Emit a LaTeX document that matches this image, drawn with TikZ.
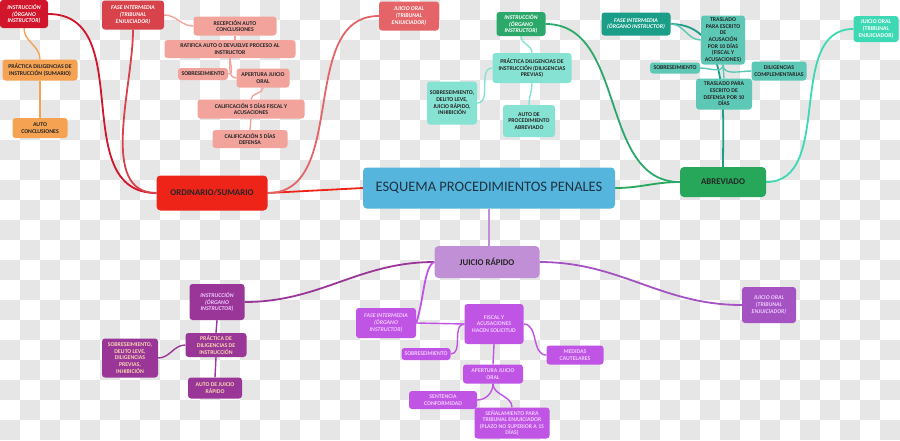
\documentclass[tikz,border=0pt]{standalone}
\usepackage{fontspec}
\setmainfont{Carlito}
\usetikzlibrary{positioning}
\pgfdeclarelayer{board}
\pgfdeclarelayer{links}
\pgfsetlayers{board,links,main}

\definecolor{chk}{HTML}{E6E6E6}
\definecolor{hubblue}{HTML}{56B5DC}
\definecolor{hubtxt}{HTML}{1F3342}
% red branch
\definecolor{ordred}{HTML}{EE2419}
\definecolor{redI}{HTML}{D1152A}
\definecolor{redF}{HTML}{D8424A}
\definecolor{redJ}{HTML}{E46468}
\definecolor{orng}{HTML}{F5A252}
\definecolor{salm}{HTML}{F2A39C}
% green branch
\definecolor{abrgreen}{HTML}{27A75A}
\definecolor{grnI}{HTML}{2BA86A}
\definecolor{tealF}{HTML}{1A9E88}
\definecolor{turqJ}{HTML}{3DD9B5}
\definecolor{turqL}{HTML}{86E3D3}
\definecolor{tealM}{HTML}{5DC8B6}
% purple branch
\definecolor{lav}{HTML}{C08FD6}
\definecolor{purI}{HTML}{9A3698}
\definecolor{violF}{HTML}{C054E4}
\definecolor{purJ}{HTML}{A552C2}
\definecolor{peach}{HTML}{F6D6AE}
\definecolor{lilac}{HTML}{F0CCFF}

\begin{document}
\begin{tikzpicture}[x=1pt, y=-1pt,
    box/.style={rectangle, rounded corners=3pt, align=center, inner sep=1pt, text=black!85,
      font=\fontsize{5.8}{6.6}\selectfont\bfseries},
    hdbox/.style={box, text=white, font=\fontsize{5.8}{6.6}\selectfont\bfseries\itshape},
    mainbox/.style={box, rounded corners=4pt, font=\fontsize{8.8}{10}\selectfont\bfseries},
    hubbox/.style={box, rounded corners=4pt, fill=hubblue, text=hubtxt, font=\fontsize{14.5}{16}\selectfont},
    sz/.style 2 args={minimum width=#1pt, minimum height=#2pt},
    br/.style={line width=1.8pt},
    sub/.style={line width=1.4pt},
]
\useasboundingbox (0,0) rectangle (900,440);
% checkerboard
\begin{pgfonlayer}{board}
\fill[white] (0,0) rectangle (900,440);
\foreach \i in {0,...,44}{
  \foreach \j in {0,...,21}{
    \ifodd\numexpr\i+\j\relax
      \fill[chk] (20*\i,20*\j) rectangle ++(20,20);
    \fi
  }
}
\end{pgfonlayer}
% Centre
\node[hubbox, sz={252}{41}] (esq) at (489,188) {ESQUEMA PROCEDIMIENTOS PENALES};
% Ordinario / sumario
\node[mainbox, fill=ordred, sz={111}{35}] (ord) at (212,193) {ORDINARIO/SUMARIO};
\node[hdbox, fill=redI, sz={48}{28}] (instR) at (24,14) {INSTRUCCIÓN\\(ÓRGANO\\INSTRUCTOR)};
\node[box, fill=orng, sz={75}{21}] (pracO) at (40,70) {PRÁCTICA DILIGENCIAS DE\\INSTRUCCIÓN (SUMARIO)};
\node[box, fill=orng, sz={55}{20}] (autoO) at (40,128) {AUTO\\CONCLUSIONES};
\node[hdbox, fill=redF, sz={62}{29}] (fiR) at (133,15) {FASE INTERMEDIA\\(TRIBUNAL\\ENJUICIADOR)};
\node[box, fill=salm, sz={83}{19}] (recep) at (235,26) {RECEPCIÓN AUTO\\CONCLUSIONES};
\node[box, fill=salm, sz={131}{18}] (ratif) at (230,49) {RATIFICA AUTO O DEVUELVE PROCESO AL\\INSTRUCTOR};
\node[box, fill=salm, sz={50}{12}] (sobR) at (203,74) {SOBRESEIMIENTO};
\node[box, fill=salm, sz={53}{19}] (apert) at (263,78) {APERTURA JUICIO\\ORAL};
\node[box, fill=salm, sz={107}{19}] (calF) at (251,109) {CALIFICACIÓN 5 DÍAS FISCAL Y\\ACUSACIONES};
\node[box, fill=salm, sz={75}{18}] (calD) at (250,139) {CALIFICACIÓN 5 DÍAS\\DEFENSA};
\node[hdbox, fill=redJ, sz={60}{29}] (joR) at (409,16) {JUICIO ORAL\\(TRIBUNAL\\ENJUICIADOR)};
% Abreviado
\node[mainbox, fill=abrgreen, sz={86}{30}] (abrev) at (723,182) {ABREVIADO};
\node[hdbox, fill=grnI, sz={49}{24}] (instG) at (521,24) {INSTRUCCIÓN\\(ÓRGANO\\INSTRUCTOR)};
\node[box, fill=turqL, sz={79}{30}] (pracG) at (532,68) {PRÁCTICA DILIGENCIAS DE\\INSTRUCCIÓN (DILIGENCIAS\\PREVIAS)};
\node[box, fill=turqL, sz={50}{43}] (sobG) at (452,103) {SOBRESEIMIENTO,\\DELITO LEVE,\\JUICIO RÁPIDO,\\INHIBICIÓN};
\node[box, fill=turqL, sz={52}{32}] (autoG) at (529,121) {AUTO DE\\PROCEDIMIENTO\\ABREVIADO};
\node[hdbox, fill=tealF, sz={69}{23}] (fiG) at (636,24) {FASE INTERMEDIA\\(ÓRGANO INSTRUCTOR)};
\node[box, fill=tealM, sz={44}{49}] (trasA) at (723,40) {TRASLADO\\PARA ESCRITO\\DE\\ACUSACIÓN\\POR 10 DÍAS\\(FISCAL Y\\ACUSACIONES)};
\node[box, fill=tealM, sz={50}{11}] (sobG2) at (675,68) {SOBRESEIMIENTO};
\node[box, fill=tealM, sz={55}{19}] (dilig) at (779,71) {DILIGENCIAS\\COMPLEMENTARIAS};
\node[box, fill=tealM, sz={56}{31}] (trasD) at (724,94) {TRASLADO PARA\\ESCRITO DE\\DEFENSA POR 10\\DÍAS};
\node[box, fill=turqJ, text=white, sz={45}{26}] (joG) at (876,29) {JUICIO ORAL\\(TRIBUNAL\\ENJUICIADOR)};
% Juicio rapido
\node[mainbox, fill=lav, sz={105}{32}] (jr) at (487,262) {JUICIO RÁPIDO};
\node[hdbox, fill=purI, text=lilac, sz={55}{36}] (instP) at (217,302) {INSTRUCCIÓN\\(ÓRGANO\\INSTRUCTOR)};
\node[box, fill=purI, text=peach, sz={61}{24}] (pracP) at (216,345) {PRÁCTICA DE\\DILIGENCIAS DE\\INSTRUCCIÓN};
\node[box, fill=purI, text=peach, sz={56}{39}] (sobP2) at (130,358) {SOBRESEIMIENTO,\\DELITO LEVE,\\DILIGENCIAS\\PREVIAS,\\INHIBICIÓN};
\node[box, fill=purI, text=peach, sz={54}{21}] (autoJR) at (215,388) {AUTO DE JUICIO\\RÁPIDO};
\node[hdbox, fill=violF, text=lilac, sz={60}{30}] (fiP) at (386,323) {FASE INTERMEDIA\\(ÓRGANO\\INSTRUCTOR)};
\node[box, fill=violF, text=lilac, sz={59}{40}] (fisc) at (494,324) {FISCAL Y\\ACUSACIONES\\HACEN SOLICITUD};
\node[box, fill=violF, text=lilac, sz={49}{12}] (sobP) at (426,354) {SOBRESEIMIENTO};
\node[box, fill=violF, text=lilac, sz={57}{19}] (medid) at (575,355) {MEDIDAS\\CAUTELARES};
\node[box, fill=violF, text=lilac, sz={60}{19}] (apertP) at (493,374) {APERTURA JUICIO\\ORAL};
\node[box, fill=violF, text=lilac, sz={68}{18}] (sent) at (443,400) {SENTENCIA\\CONFORMIDAD};
\node[box, fill=violF, text=lilac, sz={75}{31}] (senal) at (512,423) {SEÑALAMIENTO PARA\\TRIBUNAL ENJUICIADOR\\(PLAZO NO SUPERIOR A 15\\DÍAS)};
\node[hdbox, fill=purJ, text=lilac, sz={54}{36}] (joP) at (769,305) {JUICIO ORAL\\(TRIBUNAL\\ENJUICIADOR)};

\begin{pgfonlayer}{links}
% Connections: red
\draw[br, ordred] (esq.west) -- (ord.east);
\draw[br, redI] (ord.west) to[out=180, in=0, looseness=1.1] (instR.east);
\draw[br, redF] (ord.west) to[out=180, in=-90, looseness=0.9] (fiR.south);
\draw[br, redJ] (ord.east) to[out=0, in=180] (joR.west);
\draw[sub, orng] (instR.south) to[out=-90, in=90] (pracO.north);
\draw[sub, orng] (pracO.south) -- (autoO.north);
\draw[sub, salm] (fiR.east) to[out=0, in=180] (recep.west);
\draw[sub, salm] (recep.south) -- (recep.south |- ratif.north);
\draw[sub, salm] (ratif.south) to[out=-90, in=0] (sobR.east);
\draw[sub, salm] (ratif.south) to[out=-90, in=180] (apert.west);
\draw[sub, salm] (apert.south) to[out=-90, in=90] (calF.north);
\draw[sub, salm] (calF.south) -- (calD.north);
% Connections: green
\draw[br, abrgreen] (esq.east) to[out=0, in=180] (abrev.west);
\draw[br, grnI] (abrev.west) to[out=180, in=0] (instG.east);
\draw[br, tealF] (abrev.north) to[out=90, in=0] (fiG.east);
\draw[br, turqJ] (abrev.east) to[out=0, in=180] (joG.west);
\draw[sub, turqL] (instG.south) to[out=-90, in=90] (pracG.north);
\draw[sub, turqL] (pracG.west) to[out=180, in=0] (sobG.east);
\draw[sub, turqL] (pracG.south) to[out=-90, in=90] (autoG.north);
\draw[sub, tealM] (fiG.east) to[out=0, in=180] (trasA.west);
\draw[sub, tealM] (trasA.south) to[out=-90, in=0] (sobG2.east);
\draw[sub, tealM] (trasA.south) to[out=-90, in=180] (dilig.west);
\draw[sub, tealM] (trasA.south) -- (trasD.north);
% Connections: purple
\draw[br, lav] (esq.south) -- (esq.south |- jr.north);
\draw[br, purI] (jr.west) to[out=180, in=0] (instP.east);
\draw[br, violF] (jr.west) .. controls (424,266) and (424,300) .. (fiP.east);
\draw[br, purJ] (jr.east) to[out=0, in=180] (joP.west);
\draw[sub, purI] (instP.south) -- (pracP.north);
\draw[sub, purI] (pracP.west) to[out=180, in=0] (sobP2.east);
\draw[sub, purI] (pracP.south) -- (autoJR.north);
\draw[sub, violF] (fiP.east) -- (fisc.west);
\draw[sub, violF] (fisc.west) to[out=180, in=0] (sobP.east);
\draw[sub, violF] (fisc.east) to[out=0, in=180] (medid.west);
\draw[sub, violF] (fisc.south) -- (apertP.north);
\draw[sub, violF] (apertP.south) to[out=-90, in=0] (sent.east);
\draw[sub, violF] (apertP.south) to[out=-90, in=90] (senal.north);
\end{pgfonlayer}
\end{tikzpicture}
\end{document}
